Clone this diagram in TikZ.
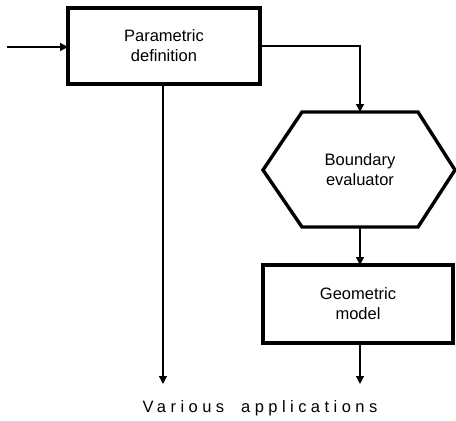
\documentclass[tikz,border=0pt]{standalone}
\usepackage{fontspec}
\setmainfont{Liberation Sans}
\usetikzlibrary{arrows.meta}
\begin{document}
\begin{tikzpicture}[x=1pt,y=-1pt,
  blk/.style={draw,line width=3.4pt,fill=white},
  lbl/.style={font=\fontsize{16.5}{20}\selectfont,align=center},
  boxnode/.style={blk,lbl,inner sep=0pt,outer sep=0pt},
  conn/.style={line width=1.4pt,-{Triangle[length=8pt,width=8pt]}}]
\useasboundingbox (0,0) rectangle (456,421);
\node[boxnode,minimum width=192pt,minimum height=76pt] (pbox) at (164,46) {Parametric\\definition};
\draw[blk] (302,112) -- (418,112) -- (455,170) -- (418,227) -- (302,227) -- (263,170) -- cycle;
\coordinate (ht) at (360,112);
\coordinate (hb) at (360,227);
\node[lbl] (htext) at (360,170) {Boundary\\evaluator};
\node[boxnode,minimum width=190pt,minimum height=78pt] (gbox) at (358,304) {Geometric\\model};
\coordinate (in) at (7,47);
\coordinate (e1) at (163,384);
\coordinate (e2) at (360,384);
\draw[conn] (in) -- (pbox.west |- in);
\draw[conn] (pbox.east) -| (ht);
\draw[conn] (hb) -- (gbox.north -| hb);
\draw[conn] (pbox.south -| e1) -- (e1);
\draw[conn] (gbox.south -| e2) -- (e2);
\node[font=\fontsize{16.5}{18}\selectfont\addfontfeature{LetterSpace=27}] (apps) at (260,408) {Various\hspace{17pt}applications};
\end{tikzpicture}
\end{document}
